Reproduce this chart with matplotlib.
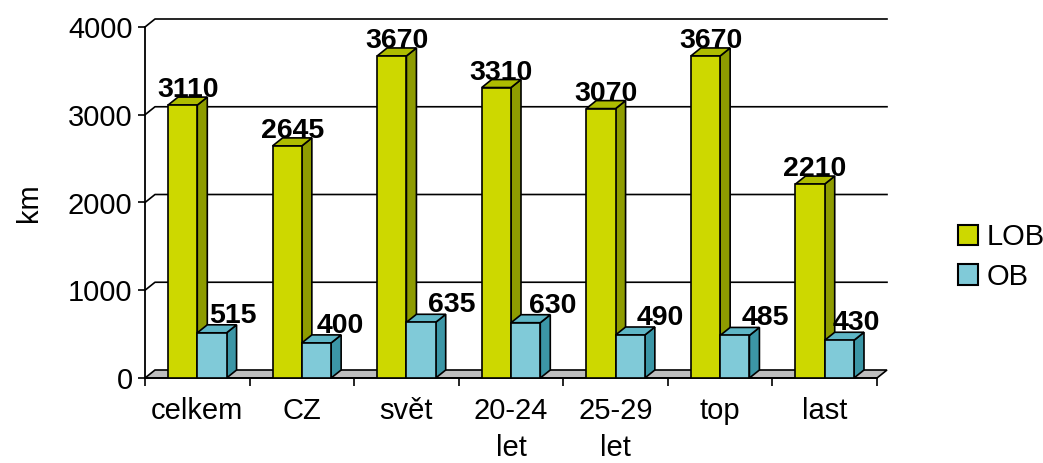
import matplotlib
matplotlib.use("Agg")
import matplotlib.pyplot as plt
from matplotlib.patches import Polygon, Patch

categories = ["celkem", "CZ", "svět", "20-24\nlet", "25-29\nlet", "top", "last"]
lob = [3110, 2645, 3670, 3310, 3070, 3670, 2210]
ob = [515, 400, 635, 630, 490, 485, 430]
series_names = ["LOB", "OB"]
yticks = [0, 1000, 2000, 3000, 4000]

# styling
FONT = "Liberation Sans"
FS = 21
FS_LBL = 20.5
lob_cols = ("#CDD800", "#8E9C00", "#AEBC00")   # front, side, top
ob_cols = ("#80CAD8", "#3C96A6", "#5FB6C6")
ob_label_dx_px = [21, 24, 31, 27, 30, 31, 17]

W, H = 1043, 463
fig = plt.figure(figsize=(W / 100, H / 100), dpi=100)
ax = fig.add_axes([145 / W, (H - 378) / H, (877 - 145) / W, (378 - 27) / H])
ax.set_xlim(-0.5, len(categories) - 0.5)
ax.set_ylim(0, 4000)

px_x = (877 - 145) / len(categories)        # pixels per category
px_y = (378 - 27) / 4000                    # pixels per data unit
dx = 10 / px_x
dy = 8 / px_y

for s in ["top", "right", "bottom"]:
    ax.spines[s].set_visible(False)
ax.spines["left"].set_linewidth(1.3)
ax.spines["left"].set_zorder(1)

x0l, x1l = -0.5, len(categories) - 0.5
# back wall gridlines
for v in yticks[1:]:
    ax.plot([x0l, x0l + dx, x1l + dx], [v, v + dy, v + dy], color="black",
            lw=1.2, clip_on=False, zorder=1)
# floor
floor = Polygon([(x0l, 0), (x1l, 0), (x1l + dx, dy), (x0l + dx, dy)], closed=True,
                facecolor="#BEBEBE", edgecolor="black", lw=1.2, clip_on=False, zorder=1.5)
ax.add_patch(floor)

w = 0.28
z = 2
def bar3d(xc, v, cols):
    global z
    xa, xb = xc - w / 2, xc + w / 2
    side = Polygon([(xb, 0), (xb + dx, dy), (xb + dx, v + dy), (xb, v)], closed=True,
                   facecolor=cols[1], edgecolor="black", lw=1.2, clip_on=False, zorder=z)
    top = Polygon([(xa, v), (xb, v), (xb + dx, v + dy), (xa + dx, v + dy)], closed=True,
                  facecolor=cols[2], edgecolor="black", lw=1.2, clip_on=False, zorder=z)
    ax.add_patch(side)
    ax.add_patch(top)
    ax.bar([xc], [v], width=w, color=cols[0], edgecolor="black", lw=1.2, zorder=z + 0.01)
    z += 0.1

for i in range(len(categories)):
    bar3d(i - 0.14, lob[i], lob_cols)
    bar3d(i + 0.14, ob[i], ob_cols)

for i in range(len(categories)):
    ax.annotate(str(lob[i]), xy=(i - 0.14 + dx / 2, lob[i]), xytext=(0, 8 * 0.72),
                textcoords="offset points", ha="center", va="baseline",
                fontsize=FS_LBL, fontweight="bold", family=FONT, zorder=10)
    ax.annotate(str(ob[i]), xy=(i + 0.14, ob[i]), xytext=(ob_label_dx_px[i] * 0.72, 10 * 0.72),
                textcoords="offset points", ha="center", va="baseline",
                fontsize=FS_LBL, fontweight="bold", family=FONT, zorder=10)

ax.set_yticks(yticks)
ax.set_yticklabels([str(t) for t in yticks], fontsize=FS, family=FONT)
ax.tick_params(axis="y", direction="out", length=5, width=1.2, pad=4)

ax.set_xticks(range(len(categories)))
ax.set_xticklabels(categories, fontsize=FS, family=FONT, linespacing=1.4)
ax.set_xticks([k - 0.5 for k in range(len(categories) + 1)], minor=True)
ax.tick_params(axis="x", which="major", length=0, pad=14)
ax.tick_params(axis="x", which="minor", length=6, width=1.2, direction="out")
ax.axhline(0, color="black", lw=1.3, zorder=1.6, clip_on=False)

ax.set_ylabel("km", fontsize=FS, family=FONT, labelpad=18)

handles = [Patch(facecolor=lob_cols[0], edgecolor="black", lw=1.5),
           Patch(facecolor=ob_cols[0], edgecolor="black", lw=1.5)]
fig.legend(handles, series_names, loc="center left", bbox_to_anchor=(946 / W, 1 - 257 / H),
           frameon=False, prop={"family": FONT, "size": FS}, handlelength=0.7,
           handleheight=0.7, handletextpad=0.3, labelspacing=0.4, borderaxespad=0)

fig.savefig("out.png", dpi=100)
